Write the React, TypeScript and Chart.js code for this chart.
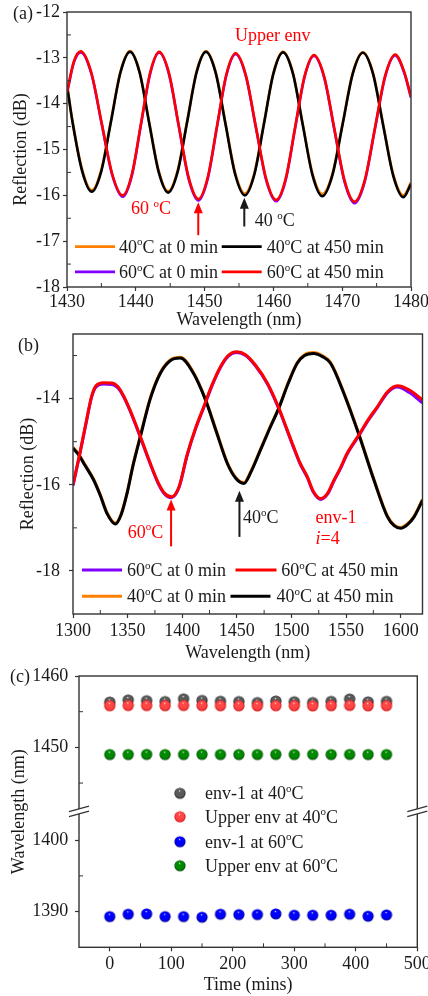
import React, { useEffect, useRef } from 'react';
import { Chart, registerables } from 'chart.js';

Chart.register(...registerables);

const SERIF = '"Liberation Serif", "Times New Roman", Times, serif';
const INK = '#1a1a1a';
const RED = '#ff0000';
const ORANGE = '#ff8000';
const VIOLET = '#8000ff';

// ---------------- Panel (a) ----------------
const A_WL_40 = [1430, 1430.8, 1432.2, 1433.6, 1434.99, 1436.38, 1437.77, 1439.16, 1440.55, 1441.93, 1443.32, 1444.7, 1446.08, 1447.45, 1448.83, 1450.2, 1451.61, 1453.03, 1454.44, 1455.85, 1457.24, 1458.63, 1460.01, 1461.4, 1462.83, 1464.25, 1465.68, 1467.1, 1468.58, 1470.05, 1471.53, 1473.0, 1474.48, 1475.95, 1477.43, 1478.9, 1480];
const A_40C_450MIN = [-13.6, -14.4, -15.47, -15.92, -15.47, -14.4, -13.32, -12.87, -13.32, -14.41, -15.49, -15.94, -15.49, -14.41, -13.32, -12.87, -13.33, -14.44, -15.54, -16.0, -15.54, -14.44, -13.34, -12.88, -13.34, -14.45, -15.56, -16.02, -15.56, -14.46, -13.35, -12.89, -13.35, -14.47, -15.58, -16.04, -15.75];
const A_40C_0MIN = [-13.58, -14.38, -15.44, -15.89, -15.44, -14.38, -13.3, -12.85, -13.3, -14.39, -15.46, -15.91, -15.46, -14.39, -13.3, -12.86, -13.31, -14.42, -15.51, -15.96, -15.51, -14.42, -13.32, -12.87, -13.32, -14.43, -15.52, -15.97, -15.53, -14.44, -13.33, -12.88, -13.33, -14.45, -15.55, -16.0, -15.72];
const A_WL_60 = [1430, 1431.0, 1432.0, 1433.53, 1435.05, 1436.58, 1438.1, 1439.43, 1440.75, 1442.08, 1443.4, 1444.83, 1446.25, 1447.68, 1449.1, 1450.45, 1451.8, 1453.15, 1454.5, 1455.98, 1457.45, 1458.93, 1460.4, 1461.78, 1463.15, 1464.53, 1465.9, 1467.38, 1468.85, 1470.33, 1471.8, 1473.28, 1474.75, 1476.23, 1477.7, 1479.0, 1480];
const A_60C_450MIN = [-13.75, -13.08, -12.86, -13.32, -14.43, -15.54, -16.0, -15.54, -14.44, -13.33, -12.87, -13.34, -14.48, -15.61, -16.08, -15.61, -14.49, -13.37, -12.9, -13.37, -14.5, -15.63, -16.1, -15.64, -14.52, -13.4, -12.94, -13.41, -14.54, -15.67, -16.14, -15.67, -14.54, -13.4, -12.93, -13.3, -13.85];
const A_60C_0MIN = [-13.77, -13.1, -12.88, -13.34, -14.45, -15.56, -16.03, -15.57, -14.46, -13.35, -12.89, -13.36, -14.5, -15.64, -16.11, -15.64, -14.51, -13.39, -12.92, -13.39, -14.52, -15.66, -16.13, -15.67, -14.54, -13.42, -12.96, -13.43, -14.56, -15.7, -16.17, -15.7, -14.56, -13.42, -12.95, -13.32, -13.87];
const A_X_TICKS = [1430, 1440, 1450, 1460, 1470, 1480];
const A_X_MINOR = [1435, 1445, 1455, 1465, 1475];
const A_Y_TICKS = [-18, -17, -16, -15, -14, -13, -12];
const A_Y_MINOR = [-17.5, -16.5, -15.5, -14.5, -13.5, -12.5];

// ---------------- Panel (b) ----------------
const B_WL_60 = [1300, 1306, 1312, 1317, 1321, 1328, 1336, 1341, 1346, 1352, 1361.7, 1370, 1378, 1384, 1390, 1397, 1404.5, 1412, 1419.7, 1427, 1435, 1442, 1450, 1458, 1467, 1478, 1488.5, 1495, 1502, 1508, 1514.5, 1520, 1526.7, 1533, 1539, 1545, 1551, 1561.8, 1570, 1578.6, 1588, 1597, 1608, 1620];
const B_60C_450MIN = [-16.0, -15.3, -14.55, -13.95, -13.7, -13.63, -13.64, -13.72, -13.92, -14.25, -14.88, -15.45, -15.95, -16.2, -16.28, -16.05, -15.3, -14.7, -14.19, -13.7, -13.26, -13.0, -12.91, -12.98, -13.22, -13.64, -14.22, -14.65, -15.12, -15.5, -15.81, -16.15, -16.32, -16.2, -15.89, -15.6, -15.27, -14.84, -14.5, -14.19, -13.84, -13.7, -13.8, -14.03];
const B_60C_0MIN = [-16.02, -15.32, -14.57, -13.97, -13.73, -13.66, -13.67, -13.75, -13.94, -14.27, -14.9, -15.47, -15.97, -16.22, -16.3, -16.07, -15.32, -14.72, -14.21, -13.72, -13.28, -13.02, -12.93, -13.0, -13.24, -13.66, -14.24, -14.67, -15.14, -15.52, -15.83, -16.17, -16.34, -16.22, -15.91, -15.62, -15.29, -14.86, -14.52, -14.21, -13.86, -13.73, -13.86, -14.1];
const B_WL_40 = [1300, 1305, 1311, 1318.9, 1325, 1331.2, 1338.8, 1344, 1349.5, 1355, 1361.7, 1370.8, 1380, 1389, 1398.3, 1410, 1421.3, 1431, 1441.2, 1449, 1456.4, 1463, 1471.7, 1480, 1488.5, 1497, 1505.3, 1512, 1520.5, 1528, 1535.8, 1548, 1561.8, 1575.5, 1587.8, 1594, 1600, 1606, 1612.2, 1620];
const B_40C_450MIN = [-15.15, -15.3, -15.55, -15.89, -16.25, -16.67, -16.91, -16.7, -16.2, -15.55, -14.88, -14.0, -13.41, -13.12, -13.06, -13.4, -14.03, -14.75, -15.5, -15.85, -15.97, -15.7, -15.19, -14.7, -14.22, -13.65, -13.18, -13.0, -12.95, -13.02, -13.18, -13.88, -14.84, -15.89, -16.74, -16.95, -17.01, -16.93, -16.75, -16.36];
const B_40C_0MIN = [-15.13, -15.28, -15.53, -15.87, -16.23, -16.65, -16.89, -16.68, -16.18, -15.53, -14.86, -13.98, -13.39, -13.1, -13.04, -13.38, -14.01, -14.73, -15.48, -15.83, -15.95, -15.68, -15.17, -14.68, -14.2, -13.63, -13.16, -12.98, -12.93, -13.0, -13.16, -13.86, -14.82, -15.87, -16.72, -16.93, -16.99, -16.91, -16.73, -16.34];
const B_X_TICKS = [1300, 1350, 1400, 1450, 1500, 1550, 1600];
const B_X_MINOR = [1325, 1375, 1425, 1475, 1525, 1575];
const B_Y_TICKS = [-18, -16, -14];
const B_Y_MINOR = [-17, -15, -13];

// ---------------- Panel (c) ----------------
const C_TIME = [0, 30, 60, 90, 120, 150, 180, 210, 240, 270, 300, 330, 360, 390, 420, 450];
const C_ENV1_40C = [1456.35, 1456.65, 1456.55, 1456.42, 1456.8, 1456.58, 1456.47, 1456.42, 1456.28, 1456.5, 1456.4, 1456.28, 1456.45, 1456.78, 1456.38, 1456.45];
const C_UPPER_40C = [1455.85, 1455.87, 1455.86, 1455.85, 1455.87, 1455.86, 1455.85, 1455.84, 1455.82, 1455.85, 1455.84, 1455.82, 1455.85, 1455.88, 1455.83, 1455.85];
const C_ENV1_60C = [1389.3, 1389.63, 1389.68, 1389.3, 1389.3, 1389.21, 1389.63, 1389.58, 1389.58, 1389.68, 1389.49, 1389.49, 1389.49, 1389.63, 1389.35, 1389.54];
const C_UPPER_60C = [1449.0, 1449.0, 1449.02, 1449.0, 1449.0, 1449.02, 1449.0, 1449.0, 1449.0, 1449.02, 1449.0, 1449.02, 1449.0, 1449.02, 1449.0, 1449.0];
const C_X_TICKS = [0, 100, 200, 300, 400, 500];
const C_X_MINOR = [50, 150, 250, 350, 450];
const C_YTOP_TICKS = [1450, 1460];
const C_YTOP_MINOR = [1445, 1455];
const C_YBOT_TICKS = [1390, 1400];
const C_YBOT_MINOR = [1395];

// ---------------- helpers ----------------
const pts = (xs: number[], ys: number[]) => xs.map((x, i) => ({ x, y: ys[i] }));

function segs(text: string) {
  const out: { t: string; sup?: boolean; it?: boolean }[] = [];
  let buf = '';
  for (let i = 0; i < text.length; i++) {
    const c = text[i];
    if ((c === '^' || c === '*') && i + 1 < text.length) {
      if (buf) { out.push({ t: buf }); buf = ''; }
      out.push({ t: text[i + 1], sup: c === '^', it: c === '*' });
      i++;
    } else buf += c;
  }
  if (buf) out.push({ t: buf });
  return out;
}

function drawRich(ctx: CanvasRenderingContext2D, text: string, x: number, yMid: number, size: number, color: string, align = 'left') {
  const parts = segs(text);
  ctx.save();
  ctx.fillStyle = color;
  ctx.textBaseline = 'alphabetic';
  ctx.textAlign = 'left';
  const fontOf = (p: any) => `${p.it ? 'italic ' : ''}${p.sup ? Math.round(size * 0.62) : size}px ${SERIF}`;
  let w = 0;
  const widths = parts.map((p) => { ctx.font = fontOf(p); const m = ctx.measureText(p.t).width; w += m; return m; });
  let cx = align === 'center' ? x - w / 2 : align === 'right' ? x - w : x;
  const base = yMid + size * 0.33;
  parts.forEach((p, i) => {
    ctx.font = fontOf(p);
    ctx.fillText(p.t, cx, p.sup ? base - size * 0.4 : base);
    cx += widths[i];
  });
  ctx.restore();
}

function arrow(ctx: CanvasRenderingContext2D, x: number, yTail: number, yTip: number, color: string) {
  ctx.save();
  ctx.strokeStyle = color; ctx.fillStyle = color; ctx.lineWidth = 2;
  const head = 11, hw = 4.5;
  ctx.beginPath(); ctx.moveTo(x, yTail); ctx.lineTo(x, yTip + head * 0.8); ctx.stroke();
  ctx.beginPath(); ctx.moveTo(x, yTip); ctx.lineTo(x - hw, yTip + head); ctx.lineTo(x + hw, yTip + head); ctx.closePath(); ctx.fill();
  ctx.restore();
}

function frame(chart: any, xMinor: number[], yMinor: { id: string; vals: number[] }[]) {
  const { ctx, chartArea: a } = chart;
  ctx.save();
  ctx.strokeStyle = '#333';
  ctx.lineWidth = 1.4;
  ctx.strokeRect(a.left, a.top, a.right - a.left, a.bottom - a.top);
  ctx.lineWidth = 1;
  ctx.beginPath();
  const xs = chart.scales.x;
  xMinor.forEach((v) => { const p = xs.getPixelForValue(v); ctx.moveTo(p, a.bottom); ctx.lineTo(p, a.bottom - 4); });
  yMinor.forEach(({ id, vals }) => {
    const s = chart.scales[id];
    vals.forEach((v) => { const p = s.getPixelForValue(v); ctx.moveTo(a.left, p); ctx.lineTo(a.left + 4, p); });
  });
  ctx.stroke();
  ctx.restore();
}

function legendLine(ctx: CanvasRenderingContext2D, x0: number, x1: number, y: number, color: string, w: number) {
  ctx.save(); ctx.strokeStyle = color; ctx.lineWidth = w;
  ctx.beginPath(); ctx.moveTo(x0, y); ctx.lineTo(x1, y); ctx.stroke(); ctx.restore();
}

function xScale(min: number, max: number, ticks: number[], title: string, labelPad: number, height: number) {
  return {
    type: 'linear', min, max,
    afterBuildTicks: (s: any) => { s.ticks = ticks.map((v) => ({ value: v })); },
    afterFit: (s: any) => { s.height = height; s.paddingLeft = 0; s.paddingRight = 0; },
    grid: { drawOnChartArea: false, drawTicks: true, tickLength: 4, tickColor: '#333', tickWidth: 1.2 },
    border: { display: false },
    ticks: { font: { family: SERIF, size: 18 }, color: INK, padding: labelPad, maxRotation: 0, autoSkip: false, callback: (v: any) => String(v) },
    title: { display: true, text: title, font: { family: SERIF, size: 18 }, color: INK, padding: { top: 0, bottom: 0 } },
  };
}

function yScale(min: number, max: number, ticks: number[], title: string | null, labelPad: number, width: number, titlePad: number, extra: any = {}) {
  return {
    type: 'linear', min, max, position: 'left',
    afterBuildTicks: (s: any) => { s.ticks = ticks.map((v) => ({ value: v })); },
    afterFit: (s: any) => { s.width = width; s.paddingTop = 0; s.paddingBottom = 0; },
    grid: { drawOnChartArea: false, drawTicks: true, tickLength: 4, tickColor: '#333', tickWidth: 1.2 },
    border: { display: false },
    ticks: { font: { family: SERIF, size: 18 }, color: INK, padding: labelPad, autoSkip: false, callback: (v: any) => String(v) },
    title: { display: !!title, text: title || '', font: { family: SERIF, size: 18 }, color: INK, padding: { top: titlePad, bottom: 0 } },
    ...extra,
  };
}

function lineDs(label: string, xs: number[], ys: number[], color: string, width: number, order: number) {
  return {
    label, data: pts(xs, ys), borderColor: color, backgroundColor: color, borderWidth: width,
    pointRadius: 0, cubicInterpolationMode: 'monotone', fill: false, order,
  };
}

function sphere(color: string, dark: string, r = 5.6) {
  const s = Math.ceil(r * 2) + 2;
  const c = document.createElement('canvas');
  c.width = s; c.height = s;
  const g = c.getContext('2d')!;
  const cx = s / 2, cy = s / 2;
  const grad = g.createRadialGradient(cx - r * 0.1, cy - r * 0.5, 0, cx, cy, r);
  grad.addColorStop(0, '#ffffff');
  grad.addColorStop(0.22, color);
  grad.addColorStop(0.75, color);
  grad.addColorStop(1, dark);
  g.fillStyle = grad;
  g.beginPath(); g.arc(cx, cy, r, 0, Math.PI * 2); g.fill();
  return c;
}

const common = {
  responsive: false,
  animation: false,
  events: [],
  plugins: { legend: { display: false }, tooltip: { enabled: false } },
};

function cfgA(): any {
  return {
    type: 'line',
    data: {
      datasets: [
        lineDs('40oC at 0 min', A_WL_40, A_40C_0MIN, ORANGE, 2.6, 3),
        lineDs('40oC at 450 min', A_WL_40, A_40C_450MIN, '#000000', 2.6, 1),
        lineDs('60oC at 0 min', A_WL_60, A_60C_0MIN, VIOLET, 2.6, 2),
        lineDs('60oC at 450 min', A_WL_60, A_60C_450MIN, RED, 2.6, 0),
      ],
    },
    options: {
      ...common,
      layout: { padding: { left: 0, right: 17, top: 12, bottom: 0 } },
      scales: {
        x: xScale(1430, 1480, A_X_TICKS, 'Wavelength (nm)', 0, 44),
        y: yScale(-18, -12, A_Y_TICKS, 'Reflection (dB)', 3, 67, 10),
      },
    },
    plugins: [{
      id: 'decorA',
      afterDraw(chart: any) {
        const { ctx } = chart;
        const X = (v: number) => chart.scales.x.getPixelForValue(v);
        const Y = (v: number) => chart.scales.y.getPixelForValue(v);
        frame(chart, A_X_MINOR, [{ id: 'y', vals: A_Y_MINOR }]);
        drawRich(ctx, '(a)', 13, 13, 18, INK);
        drawRich(ctx, 'Upper env', X(1459.9), Y(-12.5), 18, RED, 'center');
        drawRich(ctx, '60 ^oC', X(1442.2), Y(-16.28), 18, RED, 'center');
        drawRich(ctx, '40 ^oC', X(1457.3), Y(-16.55), 18, INK);
        arrow(ctx, X(1449.08), Y(-16.87), Y(-16.15), RED);
        arrow(ctx, X(1455.77), Y(-16.68), Y(-16.05), INK);
        legendLine(ctx, X(1431.16), X(1436.98), Y(-17.12), ORANGE, 2.6);
        drawRich(ctx, '40^oC at 0 min', X(1437.56), Y(-17.12), 18, INK);
        legendLine(ctx, X(1452.49), X(1458.3), Y(-17.12), '#000', 2.6);
        drawRich(ctx, '40^oC at 450 min', X(1459.03), Y(-17.12), 18, INK);
        legendLine(ctx, X(1431.16), X(1436.98), Y(-17.67), VIOLET, 2.6);
        drawRich(ctx, '60^oC at 0 min', X(1437.56), Y(-17.67), 18, INK);
        legendLine(ctx, X(1452.49), X(1458.3), Y(-17.67), RED, 2.6);
        drawRich(ctx, '60^oC at 450 min', X(1459.03), Y(-17.67), 18, INK);
      },
    }],
  };
}

function cfgB(): any {
  return {
    type: 'line',
    data: {
      datasets: [
        lineDs('60oC at 0 min', B_WL_60, B_60C_0MIN, VIOLET, 3, 2),
        lineDs('60oC at 450 min', B_WL_60, B_60C_450MIN, RED, 3, 0),
        lineDs('40oC at 0 min', B_WL_40, B_40C_0MIN, ORANGE, 3, 3),
        lineDs('40oC at 450 min', B_WL_40, B_40C_450MIN, '#000000', 3, 1),
      ],
    },
    options: {
      ...common,
      layout: { padding: { left: 0, right: 5.5, top: 3, bottom: 0 } },
      scales: {
        x: xScale(1300, 1620, B_X_TICKS, 'Wavelength (nm)', 2, 50),
        y: yScale(-19, -12.5, B_Y_TICKS, 'Reflection (dB)', 9, 73, 17.5),
      },
    },
    plugins: [{
      id: 'decorB',
      afterDraw(chart: any) {
        const { ctx } = chart;
        const X = (v: number) => chart.scales.x.getPixelForValue(v);
        const Y = (v: number) => chart.scales.y.getPixelForValue(v);
        frame(chart, B_X_MINOR, [{ id: 'y', vals: B_Y_MINOR }]);
        drawRich(ctx, '(b)', 18, 14, 18, INK);
        drawRich(ctx, '60^oC', X(1366.3), Y(-17.09), 18, RED, 'center');
        drawRich(ctx, '40^oC', X(1455.6), Y(-16.76), 18, INK);
        drawRich(ctx, 'env-1', X(1522.1), Y(-16.74), 18, RED);
        drawRich(ctx, '*i=4', X(1522.1), Y(-17.24), 18, RED);
        arrow(ctx, X(1389.8), Y(-17.43), Y(-16.34), RED);
        arrow(ctx, X(1452.4), Y(-17.21), Y(-16.14), INK);
        legendLine(ctx, X(1308.2), X(1344.9), Y(-17.98), VIOLET, 3);
        drawRich(ctx, '60^oC at 0 min', X(1349.5), Y(-17.98), 18, INK);
        legendLine(ctx, X(1448.8), X(1486.3), Y(-17.98), RED, 3);
        drawRich(ctx, '60^oC at 450 min', X(1490.7), Y(-17.98), 18, INK);
        legendLine(ctx, X(1308.2), X(1344.9), Y(-18.59), ORANGE, 3);
        drawRich(ctx, '40^oC at 0 min', X(1349.5), Y(-18.59), 18, INK);
        legendLine(ctx, X(1444.2), X(1480.8), Y(-18.59), '#000', 3);
        drawRich(ctx, '40^oC at 450 min', X(1486.3), Y(-18.59), 18, INK);
      },
    }],
  };
}

function cfgC(): any {
  const gray = sphere('#5a5a5a', '#1e1e1e');
  const red = sphere('#ff4545', '#c80000');
  const blue = sphere('#0000ff', '#00008c');
  const green = sphere('#008a00', '#004000');
  const sc = (label: string, ys: number[], img: any, axis: string, order: number) => ({
    label, data: pts(C_TIME, ys), yAxisID: axis, pointStyle: img, pointRadius: 6, showLine: false, order,
    borderColor: 'transparent', backgroundColor: 'transparent',
  });
  return {
    type: 'scatter',
    data: {
      datasets: [
        sc('env-1 at 40oC', C_ENV1_40C, gray, 'yTop', 3),
        sc('Upper env at 40oC', C_UPPER_40C, red, 'yTop', 0),
        sc('env-1 at 60oC', C_ENV1_60C, blue, 'yBot', 1),
        sc('Upper env at 60oC', C_UPPER_60C, green, 'yTop', 2),
      ],
    },
    options: {
      ...common,
      clip: false,
      layout: { padding: { left: 0, right: 10.7, top: 12, bottom: 0 } },
      scales: {
        x: xScale(-50, 500, C_X_TICKS, 'Time (mins)', 2, 48.7),
        yBot: yScale(1385, 1404, C_YBOT_TICKS, null, 6.7, 79, 0, { stack: 'wl', stackWeight: 1 }),
        yTop: yScale(1441, 1460, C_YTOP_TICKS, null, 6.7, 79, 0, { stack: 'wl', stackWeight: 1 }),
      },
    },
    plugins: [{
      id: 'decorC',
      afterDraw(chart: any) {
        const { ctx, chartArea: a } = chart;
        frame(chart, C_X_MINOR, [{ id: 'yTop', vals: C_YTOP_MINOR }, { id: 'yBot', vals: C_YBOT_MINOR }]);
        const yb = Math.min(chart.scales.yTop.bottom, chart.scales.yBot.bottom);
        [a.left, a.right].forEach((bx: number) => {
          ctx.save();
          ctx.fillStyle = '#fff';
          ctx.beginPath();
          ctx.moveTo(bx - 10, yb + 5); ctx.lineTo(bx + 10, yb - 0.5);
          ctx.lineTo(bx + 10, yb - 5.5); ctx.lineTo(bx - 10, yb + 0);
          ctx.closePath(); ctx.fill();
          ctx.strokeStyle = '#333'; ctx.lineWidth = 1.2;
          ctx.beginPath();
          ctx.moveTo(bx - 10, yb + 5); ctx.lineTo(bx + 10, yb - 0.5);
          ctx.moveTo(bx - 10, yb + 0); ctx.lineTo(bx + 10, yb - 5.5);
          ctx.stroke();
          ctx.restore();
        });
        drawRich(ctx, '(c)', 10, 12, 18, INK);
        ctx.save();
        ctx.translate(19, (a.top + a.bottom) / 2);
        ctx.rotate(-Math.PI / 2);
        ctx.font = `18px ${SERIF}`;
        ctx.fillStyle = INK;
        ctx.textAlign = 'center';
        ctx.textBaseline = 'middle';
        ctx.fillText('Wavelength (nm)', 0, 0);
        ctx.restore();
        const rows = [
          { img: gray, text: 'env-1 at 40^oC', dy: 117.3 },
          { img: red, text: 'Upper env at 40^oC', dy: 140.7 },
          { img: blue, text: 'env-1 at 60^oC', dy: 165.7 },
          { img: green, text: 'Upper env at 60^oC', dy: 189.7 },
        ];
        rows.forEach((r) => {
          const mx = a.left + 101, my = a.top + r.dy;
          ctx.drawImage(r.img, mx - r.img.width / 2, my - r.img.height / 2);
          drawRich(ctx, r.text, a.left + 126, my, 18, INK);
        });
      },
    }],
  };
}

export default function App() {
  const ra = useRef<HTMLCanvasElement>(null);
  const rb = useRef<HTMLCanvasElement>(null);
  const rc = useRef<HTMLCanvasElement>(null);
  useEffect(() => {
    const charts = [
      new Chart(ra.current as HTMLCanvasElement, cfgA()),
      new Chart(rb.current as HTMLCanvasElement, cfgB()),
      new Chart(rc.current as HTMLCanvasElement, cfgC()),
    ];
    return () => charts.forEach((c) => c.destroy());
  }, []);
  const cs = (top: number, h: number): React.CSSProperties => ({ position: 'absolute', left: 0, top, width: 428, height: h });
  return (
    <div style={{ position: 'absolute', left: 0, top: 0, width: 428, height: 996, background: '#fff', overflow: 'hidden' }}>
      <canvas ref={ra} width={428} height={331} style={cs(0, 331)} />
      <canvas ref={rb} width={428} height={333} style={cs(331, 333)} />
      <canvas ref={rc} width={428} height={332} style={cs(664, 332)} />
    </div>
  );
}
